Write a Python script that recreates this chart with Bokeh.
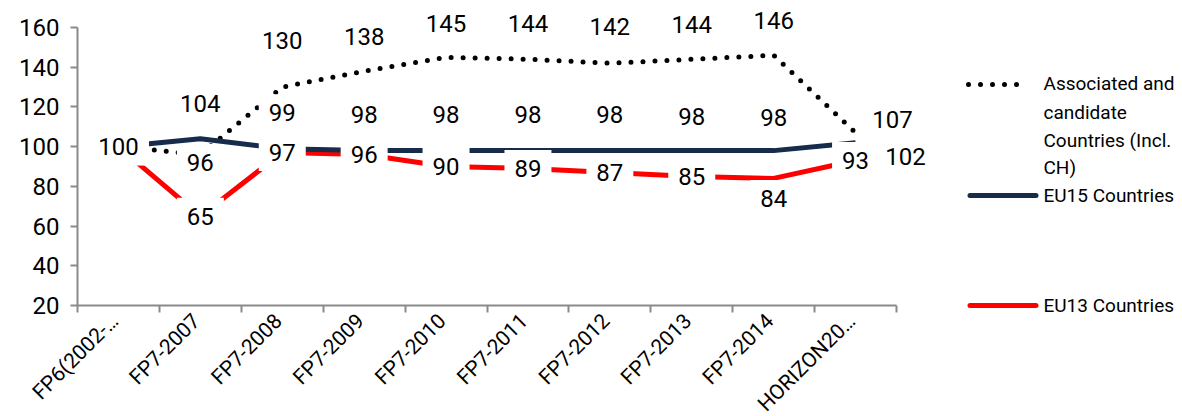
from bokeh.plotting import figure
from bokeh.models import Range1d, FixedTicker
from bokeh.embed import file_html
from bokeh.resources import INLINE
from bokeh.core.properties import value

# ---------------- data ----------------
categories = ["FP6(2002-\u2026", "FP7-2007", "FP7-2008", "FP7-2009", "FP7-2010",
              "FP7-2011", "FP7-2012", "FP7-2013", "FP7-2014", "HORIZON20\u2026"]
associated = [100, 96, 130, 138, 145, 144, 142, 144, 146, 107]
eu15 = [100, 104, 99, 98, 98, 98, 98, 98, 98, 102]
eu13 = [100, 65, 97, 96, 90, 89, 87, 85, 84, 93]
y_ticks = [20, 40, 60, 80, 100, 120, 140, 160]
legend_assoc_lines = ["Associated and", "candidate", "Countries (Incl.", "CH)"]
legend_eu15 = "EU15 Countries"
legend_eu13 = "EU13 Countries"

# ---------------- label placement (screen px offsets, style only) ----------------
assoc_dx = [0, 0, 0, 0, 0, 0, 0, 0, 0, 37]
assoc_dy = [0, 8, -47, -35, -34, -36, -37, -35, -35, -13]
eu15_dx = [0, 0, 0, 0, 0, 0, 0, 0, 0, 50]
eu15_dy = [0, -35, -36, -36, -36, -36, -36, -34, -33, 14]
eu13_dx = [0, 0, 0, 0, 0, 0, 0, 0, 0, 0]
eu13_dy = [0, 0, 0, 0, 0, 0, 0, 0, 20, 0]

NAVY = "#172B4A"
RED = "#FF0000"
AXIS = "#8A8A8A"
FONT = "Roboto"

W = 1182
H = 416
X0_PX = 77             # canvas x of the value axis
CAT_PX = 81.9          # width of one category
S = 278 / 140          # px per y unit
Y160_PX = 27           # canvas y of value 160
Y20_PX = 305           # canvas y of value 20

xs = [i + 0.5 for i in range(len(categories))]

p = figure(width=W, height=H, output_backend="svg", toolbar_location=None,
           x_range=Range1d(-X0_PX / CAT_PX, (W - X0_PX) / CAT_PX),
           y_range=Range1d(20 - (H - Y20_PX) / S, 160 + Y160_PX / S),
           min_border_left=0, min_border_right=0, min_border_top=0,
           min_border_bottom=0)
p.xgrid.visible = False
p.ygrid.visible = False
p.outline_line_color = None
p.background_fill_color = "white"
p.border_fill_color = "white"

# x axis drawn at value 20: ticks at category boundaries, labels at centres
label_shift = -0.046875
label_pos = [x + label_shift for x in xs]
p.xaxis.fixed_location = 20
p.xaxis.ticker = FixedTicker(ticks=label_pos, minor_ticks=list(range(len(categories) + 1)))
p.xaxis.major_label_overrides = {lp: c for lp, c in zip(label_pos, categories)}
p.xaxis.bounds = (0, len(categories))
p.xaxis.major_tick_line_color = None
p.xaxis.major_tick_out = 0
p.xaxis.major_tick_in = 0
p.xaxis.minor_tick_out = 7
p.xaxis.minor_tick_in = 0
p.xaxis.minor_tick_line_color = AXIS
p.xaxis.minor_tick_line_width = 2
p.xaxis.axis_line_color = AXIS
p.xaxis.axis_line_width = 2
p.xaxis.major_label_orientation = 0.785398
p.xaxis.major_label_standoff = 5
p.xaxis.major_label_text_font = FONT
p.xaxis.major_label_text_font_size = "21px"
p.xaxis.major_label_text_color = "black"

# y axis drawn at the first category boundary
p.yaxis.fixed_location = 0
p.yaxis.ticker = FixedTicker(ticks=y_ticks)
p.yaxis.bounds = (20, 160)
p.yaxis.major_tick_out = 7
p.yaxis.major_tick_in = 0
p.yaxis.major_tick_line_color = AXIS
p.yaxis.major_tick_line_width = 2
p.yaxis.minor_tick_line_color = None
p.yaxis.axis_line_color = AXIS
p.yaxis.axis_line_width = 2
p.yaxis.major_label_standoff = 11
p.yaxis.major_label_text_font = FONT
p.yaxis.major_label_text_font_size = "24px"
p.yaxis.major_label_text_color = "black"

# lines
p.line(xs, associated, line_color="black", line_width=5, line_dash="0 12", line_cap="round")
p.line(xs, eu13, line_color=RED, line_width=5)
p.line(xs, eu15, line_color=NAVY, line_width=5)

# data labels
def labels(vals, dx, dy):
    p.text(x=xs, y=vals, text=[str(v) for v in vals], x_offset=dx, y_offset=dy,
           text_align="center", text_baseline="middle", text_font=value(FONT),
           text_font_size="24px", text_color="black",
           background_fill_color="white", padding=10)

labels(eu13, eu13_dx, eu13_dy)
labels(eu15, eu15_dx, eu15_dy)
labels(associated, assoc_dx, assoc_dy)

# ---------------- legend (drawn in canvas-pixel ranges) ----------------
p.extra_x_ranges = {"px": Range1d(0, W)}
p.extra_y_ranges = {"py": Range1d(H, 0)}
leg = dict(x_range_name="px", y_range_name="py")

p.line([968, 1028], [84, 84], line_color="black", line_width=5, line_dash="0 12",
       line_cap="round", **leg)
p.line([969.5, 1035.5], [195, 195], line_color=NAVY, line_width=5, line_cap="round", **leg)
p.line([969.5, 1035.5], [305, 305], line_color=RED, line_width=5, line_cap="round", **leg)
p.text(x=[1043] * 4, y=[83, 112, 140, 167], text=legend_assoc_lines,
       text_align="left", text_baseline="middle", text_font=value(FONT),
       text_font_size="19px", text_color="black", **leg)
p.text(x=[1043, 1043], y=[195, 305], text=[legend_eu15, legend_eu13],
       text_align="left", text_baseline="middle", text_font=value(FONT),
       text_font_size="19px", text_color="black", **leg)

open("out.html", "w").write(file_html(p, INLINE))
